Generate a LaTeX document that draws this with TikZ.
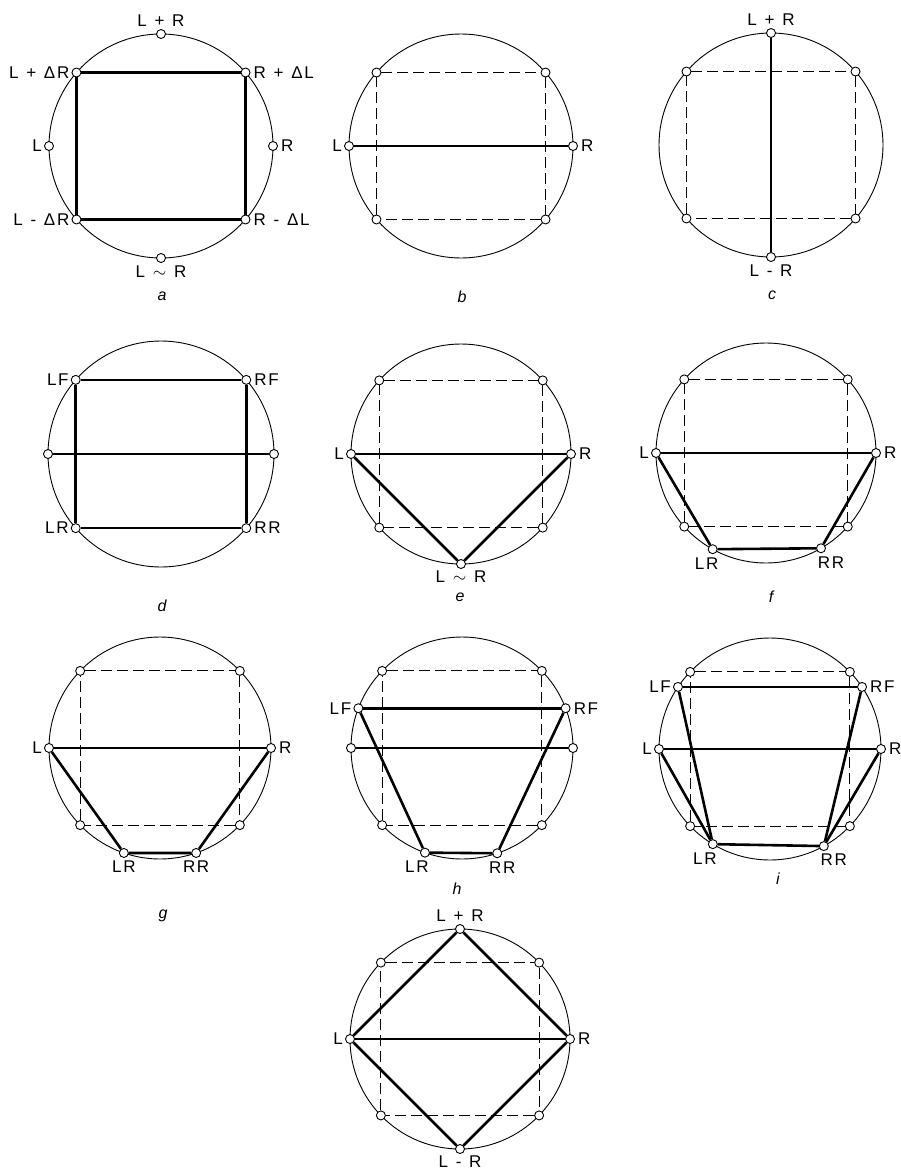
\documentclass[tikz,border=0pt]{standalone}
\usepackage{fontspec}
\setmainfont{Liberation Sans}
\newfontfamily\tagfont[LetterSpace=10, WordSpace=1.2]{Liberation Sans}
\usetikzlibrary{positioning}

\begin{document}
\begin{tikzpicture}[
  x=1pt, y=1pt,
  rim/.style={line width=0.9pt},
  port/.style={circle, draw, fill=white, line width=0.9pt, inner sep=0pt, minimum size=9pt},
  feed/.style={line width=2.6pt, line join=round},
  quad/.style={line width=0.9pt, dash pattern=on 11pt off 5pt},
  tag/.style={font=\tagfont\fontsize{17}{17}\selectfont, inner sep=0pt},
  legend/.style={font=\fontsize{16}{16}\selectfont\itshape, inner sep=0pt},
]
  \useasboundingbox (0,0) rectangle (900,-1170);

  % a
  \begin{scope}[shift={(161,-146)}]
    \draw[rim] (0,0) circle[radius=112pt];
    \node[port] (aT) at (90:112) {};
    \node[port] (aNW) at (139:112) {};
    \node[port] (aL) at (180:112) {};
    \node[port] (aSW) at (221:112) {};
    \node[port] (aB) at (270:112) {};
    \node[port] (aSE) at (319:112) {};
    \node[port] (aR) at (0:112) {};
    \node[port] (aNE) at (41:112) {};
  \end{scope}
  \node[tag, above=2pt of aT] (aTt) {L + R};
  \node[tag, left=2pt of aNW] (aNWt) {L + ΔR};
  \node[tag, right=3pt of aNE] (aNEt) {R + ΔL};
  \node[tag, left=2pt of aL] (aLt) {L};
  \node[tag, right=3pt of aR] (aRt) {R};
  \node[tag, left=2pt of aSW] (aSWt) {L - ΔR};
  \node[tag, right=3pt of aSE] (aSEt) {R - ΔL};
  \node[tag, below=3pt of aB] (aBt) {L $\sim$ R};
  \draw[feed] (aNW) -- (aNE) -- (aSE) -- (aSW) -- (aNW);
  \node[legend] (capA) at (162,-296) {a};

  % b
  \begin{scope}[shift={(461,-146)}]
    \draw[rim] (0,0) circle[radius=112pt];
    \node[port] (bNW) at (139:112) {};
    \node[port] (bNE) at (41:112) {};
    \node[port] (bL) at (180:112) {};
    \node[port] (bR) at (0:112) {};
    \node[port] (bSW) at (221:112) {};
    \node[port] (bSE) at (319:112) {};
  \end{scope}
  \node[tag, left=2pt of bL] (bLt) {L};
  \node[tag, right=3pt of bR] (bRt) {R};
  \draw[quad] (bNW) -- (bNE) -- (bSE) -- (bSW) -- (bNW);
  \draw[feed] (bL) -- (bR);
  \node[legend] (capB) at (462,-297) {b};

  % c
  \begin{scope}[shift={(771,-145)}]
    \draw[rim] (0,0) circle[radius=112pt];
    \node[port] (cT) at (90:112) {};
    \node[port] (cB) at (270:112) {};
    \node[port] (cNW) at (139:112) {};
    \node[port] (cNE) at (41:112) {};
    \node[port] (cSW) at (221:112) {};
    \node[port] (cSE) at (319:112) {};
  \end{scope}
  \node[tag, above=2pt of cT] (cTt) {L + R};
  \node[tag, below=3pt of cB] (cBt) {L - R};
  \draw[quad] (cNW) -- (cNE) -- (cSE) -- (cSW) -- (cNW);
  \draw[feed] (cT) -- (cB);
  \node[legend] (capC) at (772,-295) {c};

  % d
  \begin{scope}[shift={(161,-454)}]
    \draw[rim] (0,0) circle[radius=113pt];
    \node[port] (dLF) at (139:113) {};
    \node[port] (dRF) at (41:113) {};
    \node[port] (dL) at (180:113) {};
    \node[port] (dR) at (0:113) {};
    \node[port] (dLR) at (221:113) {};
    \node[port] (dRR) at (319:113) {};
  \end{scope}
  \node[tag, left=2pt of dLF] (dLFt) {LF};
  \node[tag, right=3pt of dRF] (dRFt) {RF};
  \node[tag, left=2pt of dLR] (dLRt) {LR};
  \node[tag, right=3pt of dRR] (dRRt) {RR};
  \draw[feed] (dLF) -- (dRF) -- (dRR) -- (dLR) -- (dLF);
  \draw[feed] (dL) -- (dR);
  \node[legend] (capD) at (162,-606) {d};

  % e
  \begin{scope}[shift={(461,-454)}]
    \draw[rim] (0,0) circle[radius=110pt];
    \node[port] (eNW) at (138:110) {};
    \node[port] (eNE) at (42:110) {};
    \node[port] (eL) at (180:110) {};
    \node[port] (eR) at (0:110) {};
    \node[port] (eSW) at (222:110) {};
    \node[port] (eSE) at (318:110) {};
    \node[port] (eB) at (270:110) {};
  \end{scope}
  \node[tag, left=2pt of eL] (eLt) {L};
  \node[tag, right=3pt of eR] (eRt) {R};
  \node[tag, below=2pt of eB] (eBt) {L $\sim$ R};
  \draw[quad] (eNW) -- (eNE) -- (eSE) -- (eSW) -- (eNW);
  \draw[feed] (eL) -- (eR);
  \draw[feed] (eL) -- (eB) -- (eR);
  \node[legend] (capE) at (460,-597) {e};

  % f
  \begin{scope}[shift={(766,-453)}]
    \draw[rim] (0,0) circle[radius=110pt];
    \node[port] (fNW) at (138:110) {};
    \node[port] (fNE) at (42:110) {};
    \node[port] (fL) at (180:110) {};
    \node[port] (fR) at (0:110) {};
    \node[port] (fSW) at (222:110) {};
    \node[port] (fSE) at (318:110) {};
    \node[port] (fLR) at (241:110) {};
    \node[port] (fRR) at (300:110) {};
  \end{scope}
  \node[tag, left=2pt of fL] (fLt) {L};
  \node[tag, right=3pt of fR] (fRt) {R};
  \node[tag, below=3pt of fLR, xshift=-6pt] (fLRt) {LR};
  \node[tag, below=3pt of fRR, xshift=10pt] (fRRt) {RR};
  \draw[quad] (fNW) -- (fNE) -- (fSE) -- (fSW) -- (fNW);
  \draw[feed] (fL) -- (fR);
  \draw[feed] (fL) -- (fLR) -- (fRR) -- (fR);
  \node[legend] (capF) at (771,-597) {f};

  % g
  \begin{scope}[shift={(160,-748)}]
    \draw[rim] (0,0) circle[radius=111pt];
    \node[port] (gNW) at (136:111) {};
    \node[port] (gNE) at (44:111) {};
    \node[port] (gL) at (180:111) {};
    \node[port] (gR) at (0:111) {};
    \node[port] (gSW) at (224:111) {};
    \node[port] (gSE) at (316:111) {};
    \node[port] (gLR) at (251:111) {};
    \node[port] (gRR) at (289:111) {};
  \end{scope}
  \node[tag, left=2pt of gL] (gLt) {L};
  \node[tag, right=3pt of gR] (gRt) {R};
  \node[tag, below=3pt of gLR] (gLRt) {LR};
  \node[tag, below=3pt of gRR] (gRRt) {RR};
  \draw[quad] (gNW) -- (gNE) -- (gSE) -- (gSW) -- (gNW);
  \draw[feed] (gL) -- (gR);
  \draw[feed] (gL) -- (gLR) -- (gRR) -- (gR);
  \node[legend] (capG) at (163,-916) {g};

  % h
  \begin{scope}[shift={(462,-748)}]
    \draw[rim] (0,0) circle[radius=111pt];
    \node[port] (hNW) at (136:111) {};
    \node[port] (hNE) at (44:111) {};
    \node[port] (hLF) at (159:111) {};
    \node[port] (hRF) at (21:111) {};
    \node[port] (hL) at (180:111) {};
    \node[port] (hR) at (0:111) {};
    \node[port] (hSW) at (224:111) {};
    \node[port] (hSE) at (316:111) {};
    \node[port] (hLR) at (250.5:111) {};
    \node[port] (hRR) at (288.5:111) {};
  \end{scope}
  \node[tag, left=2pt of hLF] (hLFt) {LF};
  \node[tag, right=3pt of hRF] (hRFt) {RF};
  \node[tag, below=3pt of hLR, xshift=-8pt] (hLRt) {LR};
  \node[tag, below=3pt of hRR, xshift=5pt] (hRRt) {RR};
  \draw[quad] (hNW) -- (hNE) -- (hSE) -- (hSW) -- (hNW);
  \draw[feed] (hLF) -- (hRF);
  \draw[feed] (hL) -- (hR);
  \draw[feed] (hLF) -- (hLR) -- (hRR) -- (hRF);
  \node[legend] (capH) at (457,-889) {h};

  % i
  \begin{scope}[shift={(770,-749)}]
    \draw[rim] (0,0) circle[radius=111pt];
    \node[port] (iNW) at (136:111) {};
    \node[port] (iNE) at (44:111) {};
    \node[port] (iLF) at (146:111) {};
    \node[port] (iRF) at (34:111) {};
    \node[port] (iL) at (180:111) {};
    \node[port] (iR) at (0:111) {};
    \node[port] (iSW) at (224:111) {};
    \node[port] (iSE) at (316:111) {};
    \node[port] (iLR) at (239:111) {};
    \node[port] (iRR) at (299:111) {};
  \end{scope}
  \node[tag, left=2pt of iLF] (iLFt) {LF};
  \node[tag, right=3pt of iRF] (iRFt) {RF};
  \node[tag, left=2pt of iL] (iLt) {L};
  \node[tag, right=3pt of iR] (iRt) {R};
  \node[tag, below=3pt of iLR, xshift=-8pt] (iLRt) {LR};
  \node[tag, below=3pt of iRR, xshift=10pt] (iRRt) {RR};
  \draw[quad] (iNW) -- (iNE) -- (iSE) -- (iSW) -- (iNW);
  \draw[feed] (iLF) -- (iRF);
  \draw[feed] (iL) -- (iR);
  \draw[feed] (iLF) -- (iLR) -- (iRR) -- (iRF);
  \draw[feed] (iL) -- (iLR);
  \draw[feed] (iR) -- (iRR);
  \node[legend] (capI) at (778,-879) {i};

  % j
  \begin{scope}[shift={(460,-1039)}]
    \draw[rim] (0,0) circle[radius=110pt];
    \node[port] (jT) at (90:110) {};
    \node[port] (jB) at (270:110) {};
    \node[port] (jL) at (180:110) {};
    \node[port] (jR) at (0:110) {};
    \node[port] (jNW) at (136:110) {};
    \node[port] (jNE) at (44:110) {};
    \node[port] (jSW) at (224:110) {};
    \node[port] (jSE) at (316:110) {};
  \end{scope}
  \node[tag, above=2pt of jT] (jTt) {L + R};
  \node[tag, below=2pt of jB] (jBt) {L - R};
  \node[tag, left=2pt of jL] (jLt) {L};
  \node[tag, right=3pt of jR] (jRt) {R};
  \draw[quad] (jNW) -- (jNE) -- (jSE) -- (jSW) -- (jNW);
  \draw[feed] (jL) -- (jR);
  \draw[feed] (jL) -- (jT) -- (jR) -- (jB) -- (jL);
\end{tikzpicture}
\end{document}
